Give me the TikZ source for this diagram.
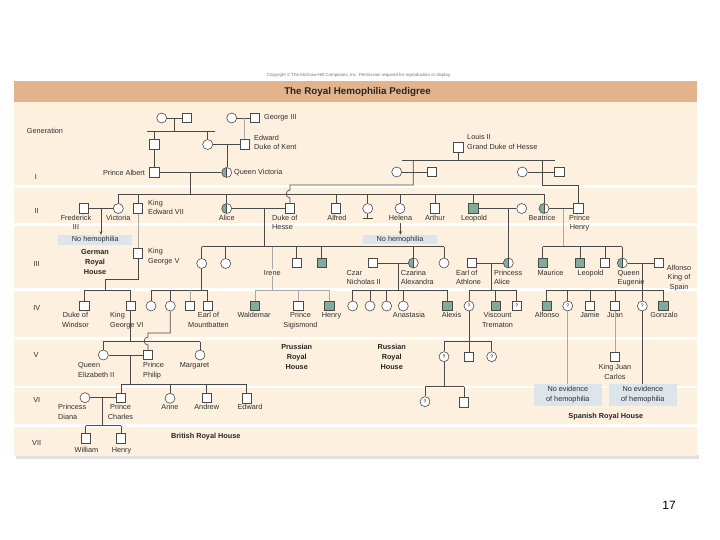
\documentclass[tikz,border=0pt]{standalone}
\usepackage{fontspec}
\setmainfont{Liberation Sans}
\usepackage{xcolor}
\usetikzlibrary{arrows.meta,positioning}

\definecolor{barc}{HTML}{E3B48C}
\definecolor{bodyc}{HTML}{FDF0DE}
\definecolor{hemoc}{HTML}{80AC9C}
\definecolor{boxc}{HTML}{DCE4EC}
\definecolor{linec}{HTML}{4A4A4A}
\definecolor{faintc}{HTML}{A8A8A8}
\definecolor{txtc}{HTML}{2E2E2E}

\begin{document}
\begin{tikzpicture}[x=1pt,y=-1pt,
  lnk/.style={draw=linec,line width=0.7pt},
  faint/.style={draw=faintc,line width=0.7pt},
  male/.style={draw=linec,fill=white,line width=0.6pt,minimum size=9.5pt,inner sep=0pt,font=\fontsize{5}{5}\selectfont},
  female/.style={male,circle,minimum size=10pt},
  hemo/.style={male,fill=hemoc},
  carrier/.style={female,path picture={\fill[hemoc] (path picture bounding box.south west) rectangle (path picture bounding box.north);
    \draw[linec,line width=0.5pt] (path picture bounding box.south) -- (path picture bounding box.north);}},
  lbl/.style={font=\fontsize{7.3}{9.5}\selectfont,text=txtc,inner sep=0pt,align=center,anchor=north},
  lbll/.style={lbl,align=left,anchor=north west},
  gen/.style={font=\fontsize{7.3}{9.5}\selectfont,text=txtc,inner sep=0pt},
  house/.style={font=\bfseries\fontsize{7.3}{10}\selectfont,text=black!85,inner sep=0pt,align=center},
  note/.style={fill=boxc,font=\fontsize{7.3}{10}\selectfont,text=txtc,inner sep=0pt,align=center},
  arr/.style={-{Stealth[length=3.5pt,width=3pt]}}]

\useasboundingbox (0,0) rectangle (720,540);
\fill[white] (0,0) rectangle (720,540);
\fill[black!12] (16,455) rectangle (699,459);
\fill[bodyc] (14,102) rectangle (697,456);
\fill[barc] (14,81.5) rectangle (697,102);
\fill[white] (14,185) rectangle (697,187.7);
\fill[white] (14,223.5) rectangle (697,226.5);
\fill[white] (14,288.3) rectangle (697,291);
\fill[white] (14,336.8) rectangle (697,339.8);
\fill[white] (14,385.6) rectangle (697,388.3);
\fill[white] (14,424.3) rectangle (697,427);

\node[font=\fontsize{4.4}{5}\selectfont,text=black!55] (copy) at (359,75) {Copyright © The McGraw-Hill Companies, Inc. Permission required for reproduction or display.};
\node[font=\bfseries\fontsize{9.8}{11}\selectfont,text=black!85] (title) at (357.5,92) {The Royal Hemophilia Pedigree};
\node[font=\fontsize{12}{12}\selectfont] (pnum) at (669,505) {17};

\node[gen] (lgen) at (45,130.7) {Generation};
\node[gen] (lg1) at (36,177) {I};
\node[gen] (lg2) at (36.7,211) {II};
\node[gen] (lg3) at (36.7,264) {III};
\node[gen] (lg4) at (36.7,308) {IV};
\node[gen] (lg5) at (36,355) {V};
\node[gen] (lg6) at (36.7,400) {VI};
\node[gen] (lg7) at (36.7,443) {VII};

\node[female] (topf1) at (161.7,118) {};
\node[male] (topm1) at (186.7,118) {};
\node[female] (topf2) at (231.7,118) {};
\node[male] (george) at (255,118) {};
\node[lbl,anchor=west] (lgeorge) at (264,118) {George III};
\node[male] (kentb) at (154.3,144.5) {};
\node[female] (kentf) at (207.7,144.5) {};
\node[male] (kent) at (245,144.5) {};
\node[lbll] (lkent) at (254,135) {Edward\\Duke of Kent};
\node[male] (louis) at (458.3,147.3) {};
\node[lbll] (llouis) at (467,134.5) {Louis II\\Grand Duke of Hesse};

\node[male] (albert) at (154.3,172.5) {};
\node[lbl,anchor=east] (lalbert) at (145,172.5) {Prince Albert};
\node[carrier] (victoria) at (226.7,172.5) {};
\node[lbl,anchor=west] (lvictoria) at (234,172.5) {Queen Victoria};
\node[female] (hessef1) at (396.7,172) {};
\node[male] (hessem1) at (431.7,172) {};
\node[female] (hessef2) at (522.3,172) {};
\node[male] (hessem2) at (559.3,172) {};

\node[male] (fred) at (84,208.5) {};
\node[lbl] (lfred) at (76,215) {Frederick\\III};
\node[female] (vicky) at (118.3,208.5) {};
\node[lbl] (lvicky) at (118.3,215) {Victoria};
\node[male] (edward7) at (138,208.5) {};
\node[lbll] (ledward7) at (148,200) {King\\Edward VII};
\node[carrier] (alice) at (226.7,208.5) {};
\node[lbl] (lalice) at (226.7,215) {Alice};
\node[male] (duke) at (290,208.5) {};
\node[lbll] (lduke) at (272,215) {Duke of\\Hesse};
\node[male] (alfred) at (336,208.5) {};
\node[lbl] (lalfred) at (337,215) {Alfred};
\node[female] (louise) at (367.7,208.5) {};
\node[female] (helena) at (400,208.5) {};
\node[lbl] (lhelena) at (400.5,215) {Helena};
\node[male] (arthur) at (435,208.5) {};
\node[lbl] (larthur) at (435,215) {Arthur};
\node[hemo] (leopold) at (473.3,208.5) {};
\node[lbl] (lleopold) at (474,215) {Leopold};
\node[female] (leowife) at (521.7,208.5) {};
\node[carrier] (beatrice) at (544,208.5) {};
\node[lbl] (lbeatrice) at (542,215) {Beatrice};
\node[male] (henry) at (578.3,208.5) {};
\node[lbl] (lhenry) at (579.5,215) {Prince\\Henry};

\node[note,minimum width=74pt,minimum height=10pt] (nohemo1) at (95.3,240) {No hemophilia};
\node[note,minimum width=73.4pt,minimum height=9.5pt] (nohemo2) at (400,239.7) {No hemophilia};

\node[male] (george5) at (138,253.3) {};
\node[lbll] (lgeorge5) at (148,248.5) {King\\George V};
\node[house] (lgerman) at (95,262.3) {German\\Royal\\House};
\node[female] (vhesse) at (201.7,263.5) {};
\node[female] (ella) at (225.7,263.5) {};
\node[male] (hesm1) at (296.7,263) {};
\node[hemo] (hesm2) at (321.7,263) {};
\node[male] (czar) at (372.7,263) {};
\node[lbll] (lczar) at (346.5,270) {Czar\\Nicholas II};
\node[carrier] (czarina) at (413.3,263) {};
\node[lbll] (lczarina) at (400.7,270) {Czarina\\Alexandra};
\node[female] (hesf3) at (444,263) {};
\node[male] (athlone) at (471.7,263) {};
\node[lbll] (lathlone) at (456,270) {Earl of\\Athlone};
\node[carrier] (palice) at (508.3,263) {};
\node[lbll] (lpalice) at (494,270) {Princess\\Alice};
\node[hemo] (maurice) at (542.7,263) {};
\node[lbl] (lmaurice) at (550.5,270) {Maurice};
\node[hemo] (leopold2) at (580,263) {};
\node[lbl] (lleopold2) at (590.5,270) {Leopold};
\node[male] (battm) at (605,263) {};
\node[carrier] (eugenie) at (622.3,263) {};
\node[lbll] (leugenie) at (617.5,270) {Queen\\Eugenie};
\node[male] (alfonso13) at (659,263) {};
\node[lbl] (lalfonso13) at (679,265) {Alfonso\\King of\\Spain};

\node[male] (windsor) at (84.3,306) {};
\node[lbl] (lwindsor) at (75.5,312.5) {Duke of\\Windsor};
\node[male] (george6) at (130.7,306) {};
\node[lbll] (lgeorge6) at (110,312.5) {King\\George VI};
\node[female] (battf1) at (151,306) {};
\node[female] (battf2) at (170.3,306) {};
\node[male] (battm1) at (190,306) {};
\node[male] (mountbatten) at (207.7,306) {};
\node[lbl] (lmountbatten) at (208.5,312.5) {Earl of\\Mountbatten};
\node[hemo] (waldemar) at (255,306) {};
\node[lbl] (lwaldemar) at (254,312.5) {Waldemar};
\node[male] (sigismond) at (298.3,306) {};
\node[lbl] (lsigismond) at (300.5,312.5) {Prince\\Sigismond};
\node[hemo] (henryp) at (329.3,306) {};
\node[lbl] (lhenryp) at (331.5,312.5) {Henry};
\node[female] (olga) at (352.7,306) {};
\node[female] (tatiana) at (370,306) {};
\node[female] (maria) at (386.7,306) {};
\node[female] (anastasia) at (403.3,306) {};
\node[lbl] (lanastasia) at (409,312.5) {Anastasia};
\node[hemo] (alexis) at (447.3,306) {};
\node[lbl] (lalexis) at (451.5,312.5) {Alexis};
\node[female] (athq1) at (469,306) {?};
\node[hemo] (trematon) at (495.7,306) {};
\node[lbl] (ltrematon) at (497.5,312.5) {Viscount\\Trematon};
\node[male] (athq2) at (516.7,306) {?};
\node[hemo] (alfonsoj) at (546.7,306) {};
\node[lbl] (lalfonsoj) at (547,312.5) {Alfonso};
\node[female] (spq1) at (567.7,306) {?};
\node[male] (jamie) at (590,306) {};
\node[lbl] (ljamie) at (590,312.5) {Jamie};
\node[male] (juan) at (615,306) {};
\node[lbl] (ljuan) at (615,312.5) {Juan};
\node[female] (spq2) at (642.3,306) {?};
\node[hemo] (gonzalo) at (663.3,306) {};
\node[lbl] (lgonzalo) at (664,312.5) {Gonzalo};

\node[female] (elizabeth) at (103.3,355) {};
\node[lbll] (lelizabeth) at (78,362.5) {Queen\\Elizabeth II};
\node[male] (philip) at (148,355) {};
\node[lbll] (lphilip) at (143,362.5) {Prince\\Philip};
\node[female] (margaret) at (200,355) {};
\node[lbl] (lmargaret) at (194.5,362.5) {Margaret};
\node[house] (lprussian) at (296.7,356.7) {Prussian\\Royal\\House};
\node[house] (lrussian) at (391.7,356.7) {Russian\\Royal\\House};
\node[female] (athq3) at (444,356.7) {?};
\node[male] (athm) at (469,356.7) {};
\node[female] (athq4) at (491.7,356.7) {?};
\node[male] (juancarlos) at (615,356.7) {};
\node[lbl] (ljuancarlos) at (615,364.5) {King Juan\\Carlos};
\node[note,minimum width=67.7pt,minimum height=21.4pt] (evid1) at (567.8,395) {No evidence\\of hemophilia};
\node[note,minimum width=67.7pt,minimum height=21.4pt] (evid2) at (642.8,395) {No evidence\\of hemophilia};
\node[house] (lspanish) at (605.8,416.7) {Spanish Royal House};

\node[female] (diana) at (85,397.7) {};
\node[lbll] (ldiana) at (58,404.5) {Princess\\Diana};
\node[male] (charles) at (121,397.7) {};
\node[lbl] (lcharles) at (120.5,404.5) {Prince\\Charles};
\node[female] (anne) at (170,398.3) {};
\node[lbl] (lanne) at (170,404.5) {Anne};
\node[male] (andrew) at (206.7,397.7) {};
\node[lbl] (landrew) at (206.7,404.5) {Andrew};
\node[male] (edwardw) at (246.7,398.3) {};
\node[lbl] (ledwardw) at (250,404.5) {Edward};
\node[female] (athq5) at (425,401.7) {?};
\node[male] (athm2) at (464,402.3) {};

\node[male] (william) at (85.7,438.5) {};
\node[lbl] (lwilliam) at (86.5,447.5) {William};
\node[male] (harry) at (121,438.5) {};
\node[lbl] (lharry) at (121.5,447.5) {Henry};
\node[house] (lbritish) at (205.8,436.7) {British Royal House};

\coordinate (d0) at (174.3,118);
\coordinate (s0) at (147,131.7);
\coordinate (s0e) at (215,131.7);
\coordinate (d0b) at (244.5,118);
\coordinate (dkent) at (227,144.5);
\coordinate (s1) at (401.7,160.7);
\coordinate (s1e) at (555,160.7);
\coordinate (hs1) at (413.3,185);
\coordinate (hs2) at (542.3,185);
\coordinate (dav) at (190.7,172.5);
\coordinate (s2) at (0,194);
\coordinate (dfv) at (101,208.5);
\coordinate (dad) at (264,208.5);
\coordinate (s3) at (0,246.7);
\coordinate (irene) at (272.3,246.7);
\coordinate (dlw) at (508.3,208.5);
\coordinate (dbh) at (563.3,208.5);
\coordinate (g5) at (105.7,279);
\coordinate (s4) at (0,290);
\coordinate (dcc) at (398.3,263);
\coordinate (daa) at (491,263);
\coordinate (dea) at (642.3,263);
\coordinate (ph) at (170.3,333);
\coordinate (s5) at (0,341.5);
\coordinate (dep) at (130.5,355);
\coordinate (s6) at (0,384.3);
\coordinate (s6b) at (0,386.7);
\coordinate (ddc) at (102.3,397.7);
\coordinate (s7) at (0,425.7);
\coordinate (lb) at (367.7,218.5);

\draw[lnk] (topf1) -- (topm1) (d0) -- (d0 |- s0) (s0) -- (s0e)
  (kentb |- s0) -- (kentb) (kentf |- s0) -- (kentf);
\draw[lnk] (topf2) -- (george);
\draw[faint] (d0b) -- (d0b |- kent.north);
\draw[lnk] (kentf) -- (kent) (dkent) -- (dkent |- victoria.north);
\draw[lnk] (kentb) -- (albert);
\draw[lnk] (louis) -- (louis |- s1) (s1) -- (s1e) (hessef1) -- (hessem1) (hessef2) -- (hessem2);
\draw[lnk] (hs1 |- s1) -- (hs1) -- (hs1 -| duke) -- ++(0,5) .. controls +(-5,0) and +(-5,0) .. ++(0,8) -- (duke);
\draw[lnk] (hs2 |- s1) -- (hs2) -- (hs2 -| henry) -- (henry);

\draw[lnk] (albert) -- (victoria) (dav) -- (dav |- s2) (vicky |- s2) -- (beatrice |- s2);
\draw[lnk] (vicky |- s2) -- (vicky) (edward7 |- s2) -- (edward7) (alice |- s2) -- (alice)
  (alfred |- s2) -- (alfred) (louise |- s2) -- (louise) (helena |- s2) -- (helena)
  (arthur |- s2) -- (arthur) (leopold |- s2) -- (leopold) (beatrice |- s2) -- (beatrice);
\draw[lnk] (louise) -- (lb) ([xshift=-5pt]lb) -- ([xshift=5pt]lb);
\draw[lnk] (fred) -- (vicky);
\draw[lnk,arr] (dfv) -- (dfv |- nohemo1.north);
\draw[lnk,arr] ([yshift=-2pt]lhelena.south) -- (lhelena.south |- nohemo2.north);

\draw[faint] (edward7) -- (george5);
\draw[lnk] (george5) -- (george5 |- g5) -- (g5) -- (g5 |- s4) (windsor |- s4) -- (george6 |- s4)
  (windsor |- s4) -- (windsor) (george6 |- s4) -- (george6);
\draw[lnk] (alice) -- (duke) (dad) -- (dad |- s3) (vhesse |- s3) -- (hesf3 |- s3)
  (vhesse |- s3) -- (vhesse) (ella |- s3) -- (ella) (hesm1 |- s3) -- (hesm1)
  (hesm2 |- s3) -- (hesm2) (czarina |- s3) -- (czarina) (hesf3 |- s3) -- (hesf3);
\draw[faint] (irene) -- (irene |- s4) (waldemar |- s4) -- (henryp |- s4)
  (waldemar |- s4) -- (waldemar) (sigismond |- s4) -- (sigismond) (henryp |- s4) -- (henryp);
\draw[lnk] (vhesse) -- (vhesse |- s4) (battf1 |- s4) -- (mountbatten |- s4)
  (battf1 |- s4) -- (battf1) (battf2 |- s4) -- (battf2) (mountbatten |- s4) -- (mountbatten);
\draw[faint] (battm1 |- s4) -- (battm1);
\draw[lnk] (czar) -- (czarina) (dcc) -- (dcc |- s4) (olga |- s4) -- (alexis |- s4)
  (olga |- s4) -- (olga) (tatiana |- s4) -- (tatiana) (maria |- s4) -- (maria)
  (anastasia |- s4) -- (anastasia) (alexis |- s4) -- (alexis);
\draw[lnk] (leopold) -- (leowife) (dlw) -- (palice);
\draw[faint] (dbh) -- (dbh |- s3);
\draw[lnk] (beatrice) -- (henry) (maurice |- s3) -- (eugenie |- s3)
  (maurice |- s3) -- (maurice) (leopold2 |- s3) -- (leopold2) (battm |- s3) -- (battm)
  (eugenie |- s3) -- (eugenie);
\draw[lnk] (athlone) -- (palice) (daa) -- (daa |- s4) (athq1 |- s4) -- (athq2 |- s4)
  (athq1 |- s4) -- (athq1) (trematon |- s4) -- (trematon) (athq2 |- s4) -- (athq2);
\draw[lnk] (eugenie) -- (alfonso13) (dea) -- (spq2) (alfonsoj |- s4) -- (gonzalo |- s4)
  (alfonsoj |- s4) -- (alfonsoj) (spq1 |- s4) -- (spq1) (jamie |- s4) -- (jamie)
  (juan |- s4) -- (juan) (gonzalo |- s4) -- (gonzalo);
\draw[faint] (juan) -- (juancarlos) (spq1) -- (spq1 |- evid1.north);
\draw[lnk] (spq2) -- (spq2 |- evid2.north);

\draw[lnk] (george6) -- (george6 |- s5) (elizabeth |- s5) -- (margaret |- s5)
  (elizabeth |- s5) -- (elizabeth) (margaret |- s5) -- (margaret);
\draw[lnk] (battf2) -- (ph) -- (ph -| philip) -- ++(0,4) .. controls +(-5,0) and +(-5,0) .. ++(0,8) -- (philip);
\draw[lnk] (athq1) -- (athq1 |- s5) (athq3 |- s5) -- (athq4 |- s5)
  (athq3 |- s5) -- (athq3) (athm |- s5) -- (athm) (athq4 |- s5) -- (athq4);
\draw[lnk] (athq3) -- (athq3 |- s6b) (athq5 |- s6b) -- (athm2 |- s6b)
  (athq5 |- s6b) -- (athq5) (athm2 |- s6b) -- (athm2);
\draw[lnk] (elizabeth) -- (philip) (dep) -- (dep |- s6) (charles |- s6) -- (edwardw |- s6)
  (charles |- s6) -- (charles) (anne |- s6) -- (anne) (andrew |- s6) -- (andrew)
  (edwardw |- s6) -- (edwardw);
\draw[lnk] (diana) -- (charles) (ddc) -- (ddc |- s7) (william |- s7) -- (harry |- s7)
  (william |- s7) -- (william) (harry |- s7) -- (harry);

\node[lbl,fill=bodyc,inner sep=1pt] (lirene) at (272.3,269) {Irene};
\end{tikzpicture}
\end{document}
